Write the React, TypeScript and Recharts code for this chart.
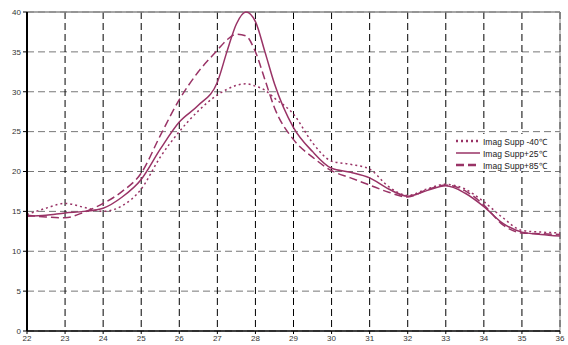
import React from "react";
import { LineChart, Line, XAxis, YAxis, CartesianGrid, ReferenceLine } from "recharts";

const xValues = [22, 22.5, 23, 23.5, 24, 24.5, 25, 25.5, 26, 26.5, 27, 27.25, 27.5, 27.75, 28, 28.25, 28.5, 29, 29.5, 30, 30.5, 31, 31.5, 32, 32.5, 33, 33.5, 34, 34.5, 35, 35.5, 36];
const suppM40 = [14.6, 15.4, 16.0, 15.5, 15.0, 15.7, 17.8, 21.8, 25.0, 27.6, 29.6, 30.3, 30.8, 31.0, 30.7, 30.2, 29.2, 27.2, 23.6, 21.3, 20.9, 20.3, 18.1, 17.0, 17.8, 18.4, 17.8, 16.2, 14.2, 12.6, 12.4, 12.3];
const suppP25 = [14.4, 14.5, 14.8, 15.0, 15.4, 16.8, 19.0, 22.8, 26.2, 28.3, 31.2, 35.0, 38.5, 40.0, 38.8, 35.0, 31.0, 25.5, 22.5, 20.4, 19.9, 19.2, 17.8, 16.9, 17.6, 18.2, 17.3, 15.6, 13.5, 12.4, 12.1, 11.9];
const suppP85 = [14.5, 14.3, 14.2, 14.9, 16.0, 17.5, 19.8, 24.5, 29.0, 32.5, 35.2, 36.5, 37.2, 37.0, 35.0, 31.5, 28.0, 24.0, 21.8, 20.1, 19.2, 18.3, 17.4, 16.8, 17.7, 18.3, 17.6, 15.8, 13.3, 12.3, 12.2, 12.1];
const xTicks = [22, 23, 24, 25, 26, 27, 28, 29, 30, 31, 32, 33, 34, 35, 36];
const yTicks = [0, 5, 10, 15, 20, 25, 30, 35, 40];
const seriesNames = ["Imag Supp -40\u2103", "Imag Supp+25\u2103", "Imag Supp+85\u2103"];

const data = xValues.map((x, i) => ({ x, a: suppM40[i], b: suppP25[i], c: suppP85[i] }));

const COLOR = "#993366";
const dashes = ["2 3", undefined, "8 4"];
const tickStyle = { fontSize: 8, fill: "#333", fontFamily: "Liberation Sans, Arial, sans-serif" };

export default function App() {
  return (
    <div style={{ position: "absolute", left: 0, top: 0, width: 568, height: 345, background: "#fff" }}>
      <LineChart width={568} height={345} data={data} margin={{ top: 12, right: 8, bottom: 0, left: 0 }}>
        <CartesianGrid horizontal={true} vertical={false} stroke="#777" strokeDasharray="7 4" />
        <CartesianGrid horizontal={false} vertical={true} stroke="#000" strokeDasharray="7 4" />
        <XAxis
          dataKey="x"
          type="number"
          domain={[22, 36]}
          ticks={xTicks}
          interval={0}
          height={14}
          tickSize={3}
          tickMargin={1}
          tick={tickStyle}
          axisLine={{ stroke: "#000", strokeWidth: 1.5 }}
          tickLine={{ stroke: "#000" }}
        />
        <YAxis
          type="number"
          domain={[0, 40]}
          ticks={yTicks}
          interval={0}
          width={27}
          tickSize={4}
          tickMargin={2}
          tick={tickStyle}
          axisLine={{ stroke: "#000", strokeWidth: 2 }}
          tickLine={{ stroke: "#000" }}
        />
        <ReferenceLine y={40} stroke="#888" strokeWidth={1.5} />
        <ReferenceLine x={36} stroke="#888" strokeWidth={1} />
        <Line type="monotone" dataKey="a" stroke={COLOR} strokeWidth={1.5} strokeDasharray="2 3" dot={false} isAnimationActive={false} />
        <Line type="monotone" dataKey="b" stroke={COLOR} strokeWidth={1.5} dot={false} isAnimationActive={false} />
        <Line type="monotone" dataKey="c" stroke={COLOR} strokeWidth={1.5} strokeDasharray="8 4" dot={false} isAnimationActive={false} />
      </LineChart>
      <div
        style={{
          position: "absolute",
          left: 452,
          top: 134,
          width: 106,
          height: 37,
          background: "#fff",
          fontFamily: "Liberation Sans, Arial, sans-serif",
          fontSize: 8.5,
          color: "#222",
        }}
      >
        {seriesNames.map((name, i) => (
          <div key={name} style={{ position: "absolute", left: 3, top: 1 + i * 12, height: 12, display: "flex", alignItems: "center", whiteSpace: "nowrap" }}>
            <svg width={26} height={6} style={{ marginRight: 2 }}>
              <line x1={1} y1={3} x2={25} y2={3} stroke={COLOR} strokeWidth={i === 1 ? 1.5 : 2.5} strokeDasharray={dashes[i]} />
            </svg>
            <span>{name}</span>
          </div>
        ))}
      </div>
    </div>
  );
}
